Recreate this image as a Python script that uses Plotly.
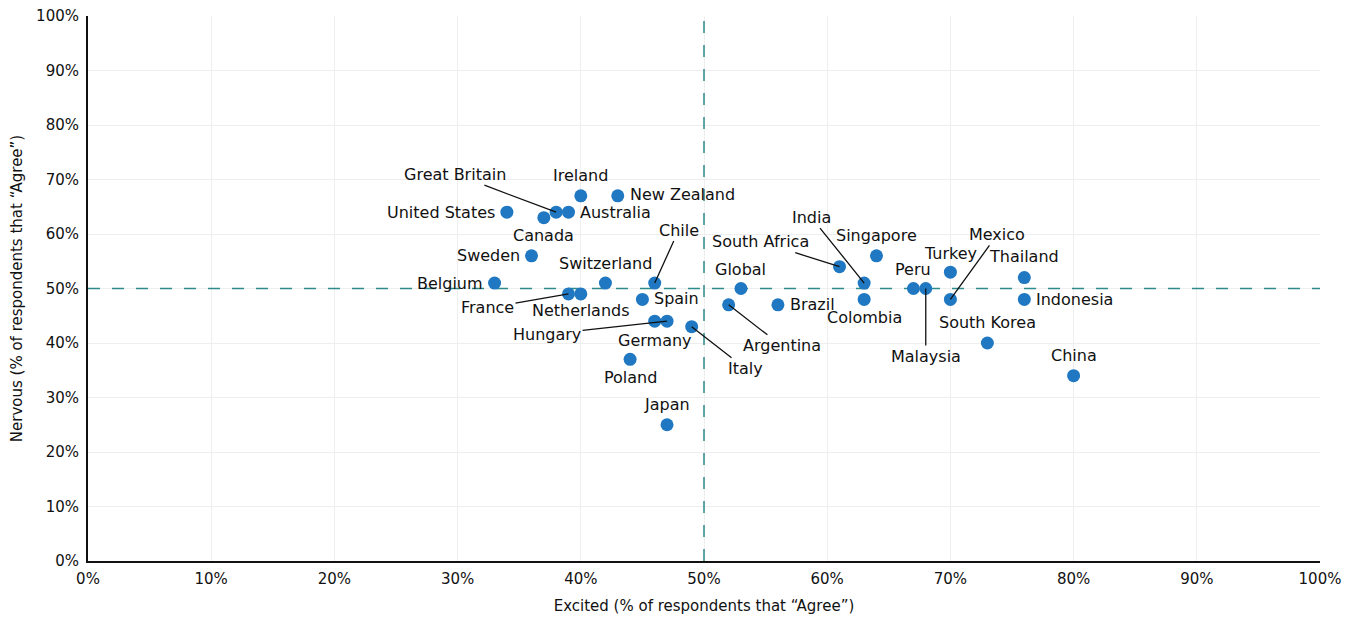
import plotly.graph_objects as go

countries = ["United States", "Canada", "Great Britain", "Australia", "Ireland", "New Zealand",
             "Sweden", "Belgium", "Switzerland", "Chile", "France", "Netherlands", "Spain",
             "Germany", "Hungary", "Italy", "Poland", "Japan", "Global", "Argentina", "Brazil",
             "South Africa", "India", "Colombia", "Singapore", "Peru", "Malaysia", "Turkey",
             "Mexico", "Thailand", "Indonesia", "South Korea", "China"]
excited = [34, 37, 38, 39, 40, 43, 36, 33, 42, 46, 39, 40, 45, 46, 47, 49, 44, 47, 53, 52, 56,
           61, 63, 63, 64, 67, 68, 70, 70, 76, 76, 73, 80]
nervous = [64, 63, 64, 64, 67, 67, 56, 51, 51, 51, 49, 49, 48, 44, 44, 43, 37, 25, 50, 47, 47,
           54, 51, 48, 56, 50, 50, 53, 48, 52, 48, 40, 34]

tick_vals = [0, 10, 20, 30, 40, 50, 60, 70, 80, 90, 100]
tick_text = [f"{v}%" for v in tick_vals]
reference_value = 50

FONT = "DejaVu Sans"
MARKER = "#1f78c1"
TEAL = "#2e8b8b"

# label placement (screen pixel offsets): leader-line labels and plain labels
leaders = {
    "Great Britain": (-101, -38), "Chile": (24, -53), "France": (-81, 14),
    "Hungary": (-120, 13), "Italy": (54, 42), "Argentina": (53, 41),
    "South Africa": (-79, -25), "India": (-53, -66), "Malaysia": (0, 68),
    "Mexico": (47, -65),
}
plain = {
    "Ireland": (0, -20, "center"), "New Zealand": (10, -1, "left"),
    "United States": (-10, 0, "right"), "Australia": (10, 0, "left"),
    "Canada": (0, 18, "center"), "Sweden": (-10, 0, "right"),
    "Switzerland": (0, -20, "center"), "Belgium": (-10, 0, "right"),
    "Netherlands": (0, 17, "center"), "Spain": (10, -1, "left"),
    "Germany": (0, 19, "center"), "Global": (0, -19, "center"),
    "Brazil": (10, 0, "left"), "Colombia": (0, 18, "center"),
    "Singapore": (0, -20, "center"), "Peru": (0, -19, "center"),
    "Turkey": (0, -19, "center"), "Thailand": (0, -21, "center"),
    "Indonesia": (10, 0, "left"), "South Korea": (0, -21, "center"),
    "China": (0, -20, "center"), "Poland": (0, 18, "center"),
    "Japan": (0, -20, "center"),
}

fig = go.Figure()
# dashed reference lines (drawn as traces so they sit above the grid but below markers)
fig.add_trace(go.Scatter(
    x=[reference_value, reference_value], y=[0, 100], mode="lines",
    line=dict(color=TEAL, width=1.5, dash="12px,12px"), hoverinfo="skip", showlegend=False,
))
fig.add_trace(go.Scatter(
    x=[0, 100], y=[reference_value, reference_value], mode="lines",
    line=dict(color=TEAL, width=1.5, dash="12px,12px"), hoverinfo="skip", showlegend=False,
))
fig.add_trace(go.Scatter(
    x=excited, y=nervous, mode="markers", text=countries,
    marker=dict(size=13, color=MARKER), hoverinfo="text+x+y", showlegend=False,
))

annotations = []
for c, xv, yv in zip(countries, excited, nervous):
    if c in leaders:
        ax, ay = leaders[c]
        annotations.append(dict(
            x=xv, y=yv, text=c, showarrow=True, arrowhead=0, arrowwidth=1.3,
            arrowcolor="#111", ax=ax, ay=ay, axref="pixel", ayref="pixel",
            standoff=0, startstandoff=0,
            font=dict(family=FONT, size=16, color="#111"),
        ))
    else:
        dx, dy, anc = plain[c]
        annotations.append(dict(
            x=xv, y=yv, text=c, showarrow=False, xanchor=anc, yanchor="middle",
            xshift=dx, yshift=-dy,
            font=dict(family=FONT, size=16, color="#111"),
        ))

fig.update_layout(
    width=1338, height=607,
    margin=dict(l=80, r=26, t=8, b=54),
    plot_bgcolor="white", paper_bgcolor="white",
    font=dict(family=FONT, size=15, color="#111"),
    annotations=annotations,
    xaxis=dict(
        range=[0, 100], tickvals=tick_vals, ticktext=tick_text,
        showgrid=True, gridcolor="#eeeeee", gridwidth=1, zeroline=False,
        showline=True, linecolor="#111", linewidth=2, automargin=False,
        title=dict(text="Excited (% of respondents that “Agree”)", font=dict(size=15), standoff=17),
        tickfont=dict(size=15), ticks="", fixedrange=True, ticklabelstandoff=3,
        ticklabeloverflow="allow",
    ),
    yaxis=dict(
        range=[0, 100], tickvals=tick_vals, ticktext=tick_text,
        showgrid=True, gridcolor="#eeeeee", gridwidth=1, zeroline=False,
        showline=True, linecolor="#111", linewidth=2, automargin=False,
        title=dict(text="Nervous (% of respondents that “Agree”)", font=dict(size=15), standoff=17),
        tickfont=dict(size=15), ticks="", fixedrange=True, ticklabelstandoff=4,
        ticklabeloverflow="allow",
    ),
)

fig.write_html("out.html")
